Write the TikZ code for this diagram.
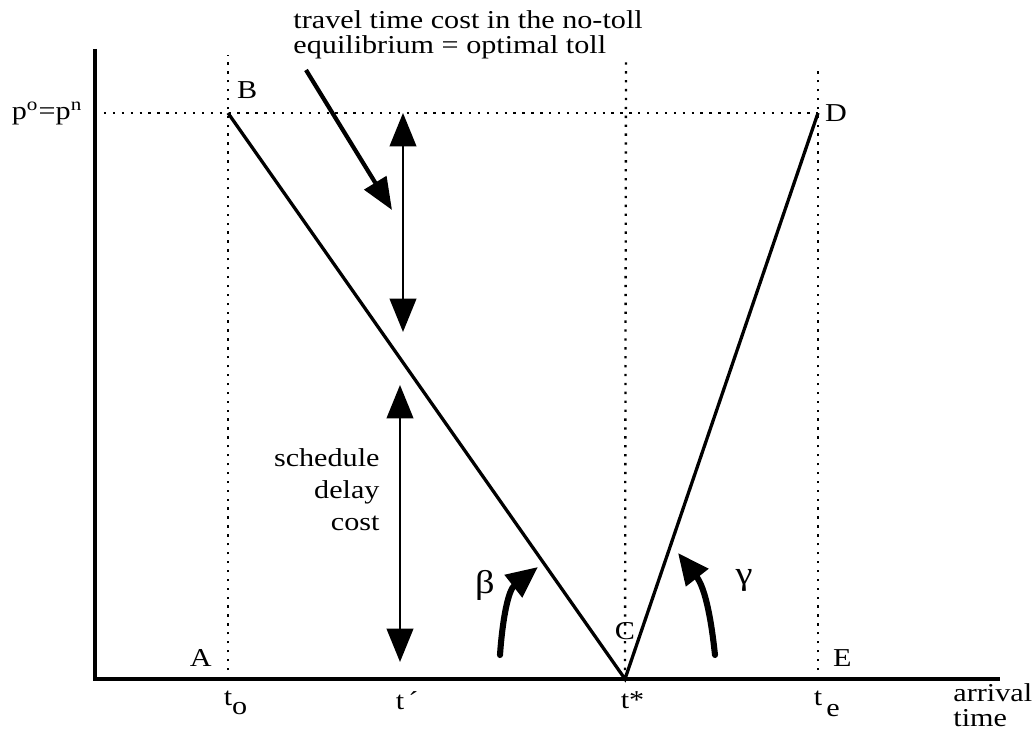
\documentclass[tikz,border=0pt]{standalone}
\usepackage{fontspec}
\setmainfont{Liberation Serif}[FakeStretch=1.17]
\usepackage{tikz}
\usetikzlibrary{arrows.meta,positioning}

\newcommand{\lowsub}[2]{\raisebox{#1}{#2}}

\tikzset{
  axisline/.style={line width=1.4pt},
  guide/.style={line width=1pt,dash pattern=on 1pt off 2.8pt},
  costline/.style={line width=1.4pt},
  span/.style={line width=0.8pt,{Triangle[length=5mm,width=4mm]}-{Triangle[length=5mm,width=4mm]}},
  pointer/.style={line width=1.8pt,-{Triangle[length=4.8mm,width=3.8mm]}},
  turn/.style={line width=2.6pt,line cap=round,-{Triangle[length=4.7mm,width=4.1mm]}},
  lbl/.style={font=\fontsize{11}{13}\selectfont,inner sep=0pt},
  greek/.style={font=\fontsize{14}{16}\selectfont,inner sep=0pt},
}

\begin{document}
\begin{tikzpicture}[x=0.15mm,y=0.15mm]
  \useasboundingbox (0,0) rectangle (1036,744);
  % points of the cost diagram
  \coordinate (O) at (95,65);
  \coordinate (Ytop) at (95,695);
  \coordinate (Xend) at (1000,65);
  \coordinate (Ptop) at (95,631);
  \coordinate (A) at (228,65);
  \coordinate (B) at (228,631);
  \coordinate (C) at (625,65);
  \coordinate (D) at (818,631);
  \coordinate (E) at (818,65);
  \coordinate (T1) at (400,65);

  % dotted guides
  \draw[guide] (Ptop) -- (D);
  \draw[guide] (A) -- (228,689);
  \draw[guide] (C) -- (626,687);
  \draw[guide] (E) -- (818,676);

  % axes and cost lines
  \draw[axisline] (Ytop) -- (O) -- (Xend);
  \draw[costline] (B) -- (C) -- (D);

  % cost spans at t'
  \draw[span] (403,412) -- (403,631);
  \draw[span] (400,82) -- (400,359);

  % slopes
  \draw[turn] (500,89) to[out=86,in=218] (538,177);
  \draw[turn] (715,89) to[out=96,in=-52] (678,191);
  \node[greek] (beta) at (485,159) {β};
  \node[greek] (gamma) at (744,164) {γ};

  % point labels
  \node[lbl,above right=2.1mm and 1.3mm of B] (Blab) {B};
  \node[lbl,right=1mm of D] (Dlab) {D};
  \node[lbl,above left=1.8mm and 2.4mm of A] (Alab) {A};
  \node[lbl,above right=1.8mm and 2.2mm of E] (Elab) {E};
  \node[lbl,above=5.8mm of C] (Clab) {C};
  \node[lbl,anchor=base east] (plab) at ([shift={(-12,-7)}]Ptop) {p\textsuperscript{o}=p\textsuperscript{n}};

  % time labels
  \node[lbl,below=1.8mm of A] (to) {t\rlap{\lowsub{-3.8pt}{o}}};
  \node[lbl,below=1.8mm of T1] (tp) {t\rlap{\,´}};
  \node[lbl,below=1.8mm of C] (ts) {t\rlap{*}};
  \node[lbl,below=1.8mm of E] (te) {t\rlap{\,\lowsub{-4.5pt}{e}}};
  \node[lbl,align=left,anchor=north west,font=\fontsize{11}{10.6}\selectfont] (arr)
    at ([shift={(-47,-4)}]Xend) {arrival\\time};

  % cost texts
  \node[lbl,align=right,anchor=east,font=\fontsize{11}{13.6}\selectfont] (sdc) at (380,254) {schedule\\delay\\cost};
  \node[lbl,align=left,anchor=north west,font=\fontsize{11}{10.8}\selectfont] (title) at (293,734)
    {travel time cost in the no-toll\\equilibrium = optimal toll};
  \coordinate (ttfrom) at (306,674);
  \coordinate (ttto) at (392,534);
  \draw[pointer] (ttfrom) -- (ttto);
\end{tikzpicture}
\end{document}
